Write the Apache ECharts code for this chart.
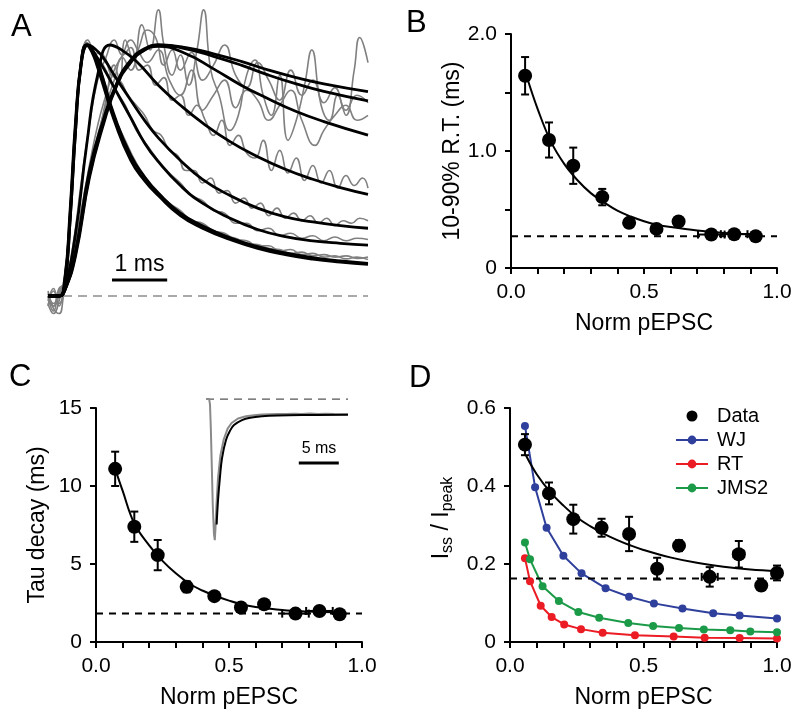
<!DOCTYPE html>
<html>
<head>
<meta charset="utf-8">
<script src="https://cdn.jsdelivr.net/npm/echarts@6/dist/echarts.min.js"></script>
<style>
  html, body { margin: 0; padding: 0; background: #fff; }
  #chart { width: 800px; height: 720px; }
</style>
</head>
<body>
<div id="chart"></div>
<script>
const FONT = 'Liberation Sans, Arial, Helvetica, sans-serif'

// ---- panel A: normalised pEPSC traces (x in ms, y normalised to peak)
const FIT_FAST_1 = [[0,0],[0.2,0],[0.3,0.06],[0.4,0.34],[0.5,0.7],[0.6,0.93],[0.7,1.0],[0.8,0.97],[0.9,0.91],[1.0,0.84],[1.2,0.7],[1.5,0.54],[1.75,0.46],[2.0,0.4],[2.4,0.32],[2.8,0.27],[3.3,0.225],[3.8,0.19],[4.3,0.165],[4.8,0.147],[5.3,0.135],[5.8,0.126]]
const FIT_FAST_2 = [[0,0],[0.2,0],[0.3,0.04],[0.4,0.3],[0.5,0.66],[0.6,0.92],[0.72,1.0],[0.82,0.975],[0.92,0.92],[1.0,0.865],[1.2,0.72],[1.5,0.56],[1.75,0.475],[2.0,0.41],[2.4,0.33],[2.8,0.28],[3.3,0.232],[3.8,0.197],[4.3,0.172],[4.8,0.153],[5.3,0.14],[5.8,0.13]]
const FIT_FAST_3 = [[0,0],[0.2,0],[0.3,0.05],[0.4,0.32],[0.5,0.68],[0.6,0.93],[0.7,1.0],[0.8,0.98],[1.0,0.91],[1.2,0.83],[1.5,0.71],[1.75,0.61],[2.0,0.535],[2.4,0.44],[2.8,0.37],[3.3,0.31],[3.8,0.265],[4.3,0.237],[4.8,0.22],[5.3,0.21],[5.8,0.203]]
const FIT_FAST_4 = [[0,0],[0.2,0],[0.3,0.04],[0.4,0.3],[0.5,0.66],[0.6,0.92],[0.72,1.0],[0.85,0.985],[1.0,0.95],[1.2,0.88],[1.5,0.78],[1.75,0.7],[2.0,0.63],[2.4,0.54],[2.8,0.465],[3.3,0.4],[3.8,0.35],[4.3,0.315],[4.8,0.295],[5.3,0.28],[5.8,0.27]]
const FIT_MID = [[0,0],[0.2,0],[0.3,0.03],[0.5,0.25],[0.7,0.6],[0.9,0.88],[1.12,1.0],[1.3,0.985],[1.6,0.935],[2.0,0.84],[2.4,0.76],[2.8,0.69],[3.3,0.615],[3.8,0.555],[4.3,0.505],[4.8,0.465],[5.3,0.432],[5.8,0.405]]
const FIT_SLOW_1 = [[0,0],[0.2,0],[0.3,0.02],[0.5,0.18],[0.75,0.5],[1.0,0.7],[1.25,0.85],[1.5,0.94],[1.75,0.985],[2.0,1.0],[2.5,0.99],[3.0,0.965],[3.5,0.935],[4.0,0.9],[4.5,0.87],[5.0,0.845],[5.8,0.814]]
const FIT_SLOW_2 = [[0,0],[0.2,0],[0.3,0.02],[0.5,0.17],[0.75,0.48],[1.0,0.69],[1.25,0.845],[1.5,0.935],[1.75,0.98],[2.0,1.0],[2.5,0.985],[3.0,0.955],[3.5,0.92],[4.0,0.88],[4.5,0.845],[5.0,0.815],[5.8,0.777]]
const FIT_SLOW_3 = [[0,0],[0.2,0],[0.3,0.02],[0.5,0.16],[0.75,0.47],[1.0,0.68],[1.25,0.84],[1.5,0.93],[1.75,0.98],[2.0,0.995],[2.5,0.965],[3.0,0.905],[3.5,0.84],[4.0,0.785],[4.5,0.735],[5.0,0.695],[5.8,0.641]]

const GRAY_SLOW_A = [[0,0.01],[0.1,-0.05],[0.2,-0.07],[0.3,0.02],[0.45,0.12],[0.6,0.3],[0.75,0.48],[0.9,0.62],[1.05,0.78],[1.2,0.92],[1.3,0.86],[1.4,1.02],[1.55,0.94],[1.7,1.08],[1.85,0.98],[2.0,1.14],[2.1,1.0],[2.25,0.88],[2.4,0.96],[2.55,0.84],[2.7,0.98],[2.82,1.14],[2.95,0.9],[3.1,0.8],[3.3,0.66],[3.45,0.72],[3.6,0.88],[3.75,0.94],[3.9,0.8],[4.05,0.72],[4.2,0.88],[4.35,0.62],[4.5,0.7],[4.65,0.84],[4.78,0.98],[4.95,0.76],[5.1,0.7],[5.25,0.8],[5.4,0.72],[5.55,0.9],[5.65,1.03],[5.8,0.93]]
const GRAY_SLOW_B = [[0,-0.02],[0.1,0.03],[0.2,-0.04],[0.3,0.03],[0.45,0.15],[0.6,0.33],[0.75,0.5],[0.9,0.64],[1.05,0.76],[1.2,0.86],[1.35,0.95],[1.5,0.9],[1.65,0.99],[1.8,1.06],[1.95,1.03],[2.1,0.92],[2.25,0.98],[2.4,0.9],[2.6,0.97],[2.8,0.86],[3.0,0.92],[3.2,1.0],[3.4,0.88],[3.6,0.83],[3.8,0.93],[4.0,0.86],[4.2,0.78],[4.4,0.9],[4.6,0.8],[4.8,0.86],[5.0,0.77],[5.2,0.83],[5.4,0.74],[5.6,0.8],[5.8,0.77]]
const GRAY_SLOW_C = [[0,0],[0.1,-0.06],[0.2,0.02],[0.3,0.05],[0.45,0.16],[0.6,0.34],[0.75,0.52],[0.9,0.68],[1.05,0.8],[1.2,0.9],[1.35,0.96],[1.5,1.02],[1.65,0.97],[1.8,0.93],[2.0,0.98],[2.2,0.86],[2.4,0.8],[2.6,0.9],[2.8,0.74],[3.0,0.8],[3.2,0.86],[3.4,0.75],[3.6,0.82],[3.8,0.78],[4.0,0.7],[4.2,0.76],[4.4,0.82],[4.6,0.7],[4.84,0.6],[5.0,0.66],[5.2,0.72],[5.4,0.76],[5.6,0.7],[5.8,0.72]]
const GRAY_MID = [[0,0],[0.1,-0.04],[0.2,0.03],[0.3,0.05],[0.45,0.2],[0.6,0.45],[0.75,0.68],[0.9,0.86],[1.05,0.95],[1.2,1.02],[1.35,0.96],[1.5,0.99],[1.65,0.9],[1.8,0.92],[1.95,0.84],[2.1,0.87],[2.25,0.78],[2.4,0.8],[2.55,0.72],[2.7,0.76],[2.85,0.7],[3.0,0.64],[3.15,0.7],[3.3,0.6],[3.45,0.64],[3.6,0.57],[3.75,0.55],[3.9,0.62],[4.05,0.5],[4.2,0.58],[4.35,0.49],[4.5,0.55],[4.65,0.46],[4.8,0.52],[4.95,0.45],[5.1,0.5],[5.25,0.43],[5.4,0.48],[5.55,0.44],[5.7,0.47],[5.8,0.43]]
const GRAY_FAST_4 = [[0,-0.03],[0.1,-0.07],[0.2,-0.02],[0.3,0.08],[0.4,0.32],[0.5,0.7],[0.6,0.92],[0.72,1.02],[0.85,0.97],[1.0,0.96],[1.15,0.88],[1.3,0.86],[1.45,0.8],[1.6,0.76],[1.75,0.72],[1.9,0.66],[2.05,0.64],[2.2,0.58],[2.35,0.56],[2.5,0.5],[2.65,0.5],[2.8,0.45],[2.95,0.47],[3.1,0.41],[3.25,0.42],[3.4,0.37],[3.55,0.39],[3.7,0.35],[3.85,0.37],[4.0,0.32],[4.15,0.35],[4.3,0.31],[4.45,0.33],[4.6,0.3],[4.75,0.32],[4.9,0.29],[5.05,0.31],[5.2,0.28],[5.35,0.3],[5.5,0.29],[5.65,0.31],[5.8,0.3]]
const GRAY_FAST_3 = [[0,0.02],[0.1,-0.03],[0.2,0.01],[0.3,0.06],[0.4,0.33],[0.5,0.69],[0.6,0.94],[0.7,1.01],[0.85,0.96],[1.0,0.92],[1.2,0.83],[1.4,0.76],[1.6,0.66],[1.8,0.6],[2.0,0.54],[2.2,0.49],[2.4,0.45],[2.6,0.4],[2.8,0.38],[3.0,0.34],[3.2,0.33],[3.4,0.29],[3.6,0.29],[3.8,0.26],[4.0,0.27],[4.2,0.24],[4.4,0.25],[4.6,0.23],[4.8,0.24],[5.0,0.22],[5.2,0.235],[5.4,0.22],[5.6,0.23],[5.8,0.225]]
const GRAY_FAST_1 = [[0,0],[0.1,-0.04],[0.2,0],[0.3,0.07],[0.4,0.35],[0.5,0.71],[0.6,0.93],[0.7,1.0],[0.8,0.97],[1.0,0.85],[1.2,0.71],[1.4,0.6],[1.6,0.51],[1.8,0.45],[2.0,0.4],[2.2,0.36],[2.4,0.33],[2.6,0.3],[2.8,0.28],[3.0,0.26],[3.2,0.24],[3.4,0.23],[3.6,0.21],[3.8,0.205],[4.0,0.19],[4.2,0.185],[4.4,0.17],[4.6,0.175],[4.8,0.16],[5.0,0.165],[5.2,0.155],[5.4,0.16],[5.6,0.15],[5.8,0.155]]
const GRAY_FAST_2 = [[0,-0.04],[0.1,0.02],[0.2,-0.03],[0.3,0.05],[0.4,0.3],[0.5,0.67],[0.6,0.92],[0.72,1.0],[0.85,0.95],[1.0,0.87],[1.2,0.72],[1.4,0.62],[1.6,0.53],[1.8,0.46],[2.0,0.41],[2.2,0.37],[2.4,0.34],[2.6,0.3],[2.8,0.29],[3.0,0.26],[3.2,0.25],[3.4,0.225],[3.6,0.22],[3.8,0.2],[4.0,0.2],[4.2,0.18],[4.4,0.185],[4.6,0.165],[4.8,0.17],[5.0,0.155],[5.2,0.16],[5.4,0.148],[5.6,0.155],[5.8,0.145]]

const A_BASELINE = [[0,0],[5.8,0]]
const A_SCALE_BAR = [[1.16,0.064],[2.16,0.064]]

// ---- panel B: 10-90% rise time
const B_X = [0.053,0.143,0.234,0.343,0.444,0.547,0.63,0.753,0.839,0.92]
const B_Y = [1.643,1.094,0.874,0.606,0.386,0.334,0.397,0.286,0.289,0.271]
const B_ERR = [0.16,0.15,0.155,0.07,0.03,0.03,0.03,0.03,0.03,0.03]
const B_XERR = [0,0,0,0,0,0,0,0.05,0.05,0]
const B_FIT = [[0.06,1.63],[0.1,1.36],[0.15,1.08],[0.2,0.89],[0.25,0.75],[0.3,0.64],[0.35,0.56],[0.4,0.49],[0.45,0.44],[0.5,0.4],[0.55,0.37],[0.6,0.35],[0.7,0.32],[0.8,0.3],[0.9,0.29]]
const B_BASE = 0.271

// ---- panel C: decay time constant
const C_X = [0.072,0.144,0.232,0.341,0.445,0.545,0.632,0.75,0.84,0.916]
const C_Y = [11.1,7.39,5.57,3.54,2.94,2.21,2.42,1.82,1.99,1.78]
const C_ERR = [1.1,0.97,0.97,0.35,0.2,0.2,0.2,0.2,0.2,0.2]
const C_XERR = [0,0,0,0,0,0,0,0.05,0.05,0]
const C_FIT = [[0.072,11.1],[0.1,9.7],[0.144,7.6],[0.2,6.2],[0.25,5.2],[0.3,4.4],[0.35,3.75],[0.4,3.3],[0.45,2.95],[0.5,2.65],[0.55,2.4],[0.6,2.25],[0.7,2.05],[0.8,1.95],[0.9,1.9]]
const C_BASE = 1.82

// inset trace (ms, normalised)
const INSET_TRACE = [[0,0],[0.2,0.004],[0.4,0],[0.5,-0.04],[0.6,-0.2],[0.7,-0.42],[0.85,-0.76],[1.0,-0.96],[1.1,-1.0],[1.2,-0.9],[1.3,-0.76],[1.5,-0.56],[1.8,-0.4],[2.2,-0.29],[2.7,-0.21],[3.2,-0.17],[4,-0.138],[5,-0.122],[6,-0.115],[7,-0.11],[8,-0.108],[9,-0.106],[10,-0.107],[11,-0.104],[12,-0.106],[13,-0.103],[14,-0.106],[15,-0.104],[16,-0.106],[17.75,-0.108]]
const INSET_FIT = [[1.33,-0.89],[1.5,-0.72],[1.75,-0.55],[2.0,-0.42],[2.5,-0.29],[3.0,-0.225],[3.5,-0.185],[4.5,-0.15],[5.5,-0.133],[7,-0.122],[9,-0.116],[12,-0.113],[17.75,-0.112]]
const INSET_BASELINE = [[0,0],[17.75,0]]
const INSET_SCALE_BAR = [[11.6,-0.454],[16.6,-0.454]]

// ---- panel D: steady-state / peak
const D_X = [0.056,0.146,0.237,0.343,0.446,0.551,0.633,0.748,0.857,0.941,1.0]
const D_Y = [0.506,0.381,0.315,0.293,0.277,0.188,0.247,0.167,0.225,0.145,0.177]
const D_ERR = [0.027,0.028,0.037,0.023,0.044,0.028,0.014,0.025,0.034,0.012,0.019]
const D_XERR = [0,0,0,0,0,0,0,0.03,0.02,0,0]
const D_FIT = [[0.06,0.478],[0.1,0.43],[0.15,0.385],[0.2,0.35],[0.25,0.32],[0.3,0.297],[0.35,0.278],[0.4,0.262],[0.45,0.248],[0.5,0.236],[0.6,0.217],[0.7,0.203],[0.8,0.193],[0.9,0.186],[1.0,0.182]]
const D_BASE = 0.163
const WJ = [[0.056,0.554],[0.094,0.397],[0.137,0.293],[0.2,0.221],[0.268,0.176],[0.358,0.138],[0.446,0.116],[0.539,0.099],[0.646,0.086],[0.761,0.074],[0.86,0.068],[1.0,0.06]]
const RT = [[0.056,0.215],[0.075,0.156],[0.115,0.093],[0.156,0.064],[0.203,0.045],[0.266,0.033],[0.347,0.024],[0.468,0.017],[0.613,0.014],[0.729,0.011],[0.86,0.01],[1.0,0.009]]
const JMS2 = [[0.056,0.255],[0.075,0.212],[0.122,0.143],[0.183,0.105],[0.256,0.077],[0.334,0.062],[0.443,0.049],[0.536,0.041],[0.633,0.036],[0.726,0.032],[0.825,0.03],[0.9,0.027],[1.0,0.025]]
const LEGEND_D = ['Data', 'WJ', 'RT', 'JMS2']
const MODEL_COLORS = { WJ: '#2f3f9c', RT: '#ec1c24', JMS2: '#1b9a48' }

// tick labels
const X_LABELS = { 0: '0.0', 5: '0.5', 10: '1.0' } // keyed by tenths
const B_Y_LABELS = { 0: '0', 2: '1.0', 4: '2.0' } // keyed by halves
const D_Y_LABELS = { 0: '0', 2: '0.2', 4: '0.4', 6: '0.6' } // keyed by tenths

const zip = (xs, ys, es, xes) => xs.map((x, i) => [x, ys[i], es[i], xes[i]])
const flat = (v) => [[0, v], [1, v]]

let chart = echarts.init(document.getElementById('chart'))

let axisBase = {
  axisLine: { show: true, onZero: false, lineStyle: { color: '#000', width: 2 } },
  axisTick: { show: true, length: 6, lineStyle: { color: '#000', width: 2 } },
  splitLine: { show: false },
  axisLabel: { color: '#000', fontSize: 21, fontFamily: FONT, margin: 14 },
  nameTextStyle: { color: '#000', fontSize: 23, fontFamily: FONT },
  nameLocation: 'middle'
}

let xNorm = (gridIndex) => Object.assign({}, axisBase, {
  type: 'value', gridIndex, min: 0, max: 1, interval: 0.1,
  name: 'Norm pEPSC', nameGap: 44,
  axisLabel: Object.assign({}, axisBase.axisLabel, {
    formatter: (v) => X_LABELS[Math.round(v * 10)] || ''
  })
})

let hidden = (gridIndex, min, max) => ({ type: 'value', gridIndex, min, max, show: false })

// error bars drawn through the axes
let errorBars = (params, api) => {
  let x = api.value(0), y = api.value(1), e = api.value(2), xe = api.value(3)
  let style = { stroke: '#000', lineWidth: 2 }
  let kids = []
  let seg = (a, b) => kids.push({ type: 'line', shape: { x1: a[0], y1: a[1], x2: b[0], y2: b[1] }, style })
  if (e > 0) {
    let t = api.coord([x, y + e]), b = api.coord([x, y - e])
    seg(t, b)
    seg([t[0] - 4, t[1]], [t[0] + 4, t[1]])
    seg([b[0] - 4, b[1]], [b[0] + 4, b[1]])
  }
  if (xe > 0) {
    let l = api.coord([x - xe, y]), r = api.coord([x + xe, y])
    seg(l, r)
    seg([l[0], l[1] - 4], [l[0], l[1] + 4])
    seg([r[0], r[1] - 4], [r[0], r[1] + 4])
  }
  return { type: 'group', children: kids }
}

let traceSeries = (data, color, width, z) => ({
  type: 'line', xAxisIndex: 0, yAxisIndex: 0, data, showSymbol: false,
  smooth: 0.5, silent: true, z,
  lineStyle: { color, width }
})

let series = []
// panel A
;[GRAY_SLOW_A, GRAY_SLOW_B, GRAY_SLOW_C, GRAY_MID, GRAY_FAST_4, GRAY_FAST_3, GRAY_FAST_1, GRAY_FAST_2]
  .forEach(d => series.push(traceSeries(d, '#808080', 1.6, 2)))
;[FIT_SLOW_1, FIT_SLOW_2, FIT_SLOW_3, FIT_MID, FIT_FAST_4, FIT_FAST_3, FIT_FAST_2, FIT_FAST_1]
  .forEach(d => series.push(traceSeries(d, '#000', 2.8, 3)))
series.push({ type: 'line', xAxisIndex: 0, yAxisIndex: 0, data: A_BASELINE, showSymbol: false,
  lineStyle: { color: '#555', width: 1.2, type: [9, 6] }, z: 1 })
series.push({ type: 'line', xAxisIndex: 0, yAxisIndex: 0, data: A_SCALE_BAR, showSymbol: false,
  lineStyle: { color: '#000', width: 3 } })

// panels B, C, D: fit, dashed asymptote, error bars, points
let panel = (idx, fit, base, pts) => {
  series.push({ type: 'line', xAxisIndex: idx, yAxisIndex: idx, data: fit, showSymbol: false,
    smooth: 0.4, lineStyle: { color: '#000', width: 2 }, z: 2 })
  series.push({ type: 'line', xAxisIndex: idx, yAxisIndex: idx, data: flat(base), showSymbol: false,
    lineStyle: { color: '#000', width: 2, type: [7, 6] }, z: 1 })
  series.push({ type: 'custom', xAxisIndex: idx, yAxisIndex: idx, data: pts,
    encode: { x: 0, y: 1 }, renderItem: errorBars, z: 4 })
  series.push({ type: 'scatter', name: idx === 3 ? 'Data' : 'pts' + idx, xAxisIndex: idx, yAxisIndex: idx,
    data: pts.map(p => [p[0], p[1]]), symbolSize: 14, itemStyle: { color: '#000', opacity: 1 }, z: 5 })
}

// model curves in D go underneath the data
;[['WJ', WJ], ['RT', RT], ['JMS2', JMS2]].forEach(([name, d]) => {
  series.push({ type: 'line', name, xAxisIndex: 3, yAxisIndex: 3, data: d, symbol: 'circle', symbolSize: 8,
    showSymbol: true, lineStyle: { color: MODEL_COLORS[name], width: 2 },
    itemStyle: { color: MODEL_COLORS[name] }, z: 1 })
})
panel(1, B_FIT, B_BASE, zip(B_X, B_Y, B_ERR, B_XERR))
panel(2, C_FIT, C_BASE, zip(C_X, C_Y, C_ERR, C_XERR))
panel(3, D_FIT, D_BASE, zip(D_X, D_Y, D_ERR, D_XERR))

// inset of C
series.push({ type: 'line', xAxisIndex: 4, yAxisIndex: 4, data: INSET_BASELINE, showSymbol: false,
  lineStyle: { color: '#555', width: 1.2, type: [8, 6] } })
series.push({ type: 'line', xAxisIndex: 4, yAxisIndex: 4, data: INSET_TRACE, showSymbol: false,
  lineStyle: { color: '#8a8a8a', width: 2 } })
series.push({ type: 'line', xAxisIndex: 4, yAxisIndex: 4, data: INSET_FIT, showSymbol: false, smooth: 0.4,
  lineStyle: { color: '#000', width: 2 } })
series.push({ type: 'line', xAxisIndex: 4, yAxisIndex: 4, data: INSET_SCALE_BAR, showSymbol: false,
  lineStyle: { color: '#000', width: 3 } })

let letter = (t, x, y) => ({ type: 'text', x, y,
  style: { text: t, fontSize: 31, fontFamily: FONT, fill: '#000', align: 'left', verticalAlign: 'middle' } })
let note = (t, x, y, size) => ({ type: 'text', x, y,
  style: { text: t, fontSize: size, fontFamily: FONT, fill: '#000', align: 'center', verticalAlign: 'middle' } })

let option = {
  animation: false,
  backgroundColor: '#fff',
  textStyle: { fontFamily: FONT },
  grid: [
    { left: 48, width: 320, top: 4.84, height: 316.26 },
    { left: 511, width: 266, top: 34, height: 234 },
    { left: 96, width: 266, top: 408, height: 234 },
    { left: 510, width: 267, top: 408, height: 234 },
    { left: 206, width: 142, top: 394.8, height: 149.5 }
  ],
  xAxis: [
    hidden(0, 0, 5.8),
    xNorm(1),
    xNorm(2),
    xNorm(3),
    hidden(4, 0, 17.75)
  ],
  yAxis: [
    hidden(0, -0.1, 1.16),
    Object.assign({}, axisBase, {
      type: 'value', gridIndex: 1, min: 0, max: 2, interval: 0.5,
      name: '10-90% R.T. (ms)', nameGap: 47,
      axisLabel: Object.assign({}, axisBase.axisLabel, { formatter: (v) => B_Y_LABELS[Math.round(v * 2)] || '' })
    }),
    Object.assign({}, axisBase, {
      type: 'value', gridIndex: 2, min: 0, max: 15, interval: 5,
      name: 'Tau decay (ms)', nameGap: 47
    }),
    Object.assign({}, axisBase, {
      type: 'value', gridIndex: 3, min: 0, max: 0.6, interval: 0.2,
      name: '{m|I}{s|ss}{m| / I}{s|peak}', nameGap: 54,
      nameTextStyle: {
        color: '#000', fontFamily: FONT, padding: [0, 0, 0, 14],
        rich: {
          m: { fontSize: 23, lineHeight: 28, fontFamily: FONT, color: '#000' },
          s: { fontSize: 16, lineHeight: 14, verticalAlign: 'bottom', fontFamily: FONT, color: '#000' }
        }
      },
      axisLabel: Object.assign({}, axisBase.axisLabel, { formatter: (v) => D_Y_LABELS[Math.round(v * 10)] || '' })
    }),
    hidden(4, -1.03, 0.03)
  ],
  legend: {
    data: LEGEND_D.map(n => n === 'Data' ? { name: n, icon: 'circle' } : n),
    orient: 'vertical', left: 670, top: 399, itemWidth: 32, itemHeight: 11, itemGap: 0,
    textStyle: { fontSize: 20, lineHeight: 24, color: '#000', fontFamily: FONT, padding: [0, 0, 0, 4] },
    selectedMode: false
  },
  graphic: [
    letter('A', 11, 27),
    letter('B', 406, 23),
    letter('C', 9, 377),
    letter('D', 409, 378),
    note('1 ms', 139.5, 265, 23),
    note('5 ms', 319, 449, 16)
  ],
  series
}

chart.setOption(option)
</script>
</body>
</html>
